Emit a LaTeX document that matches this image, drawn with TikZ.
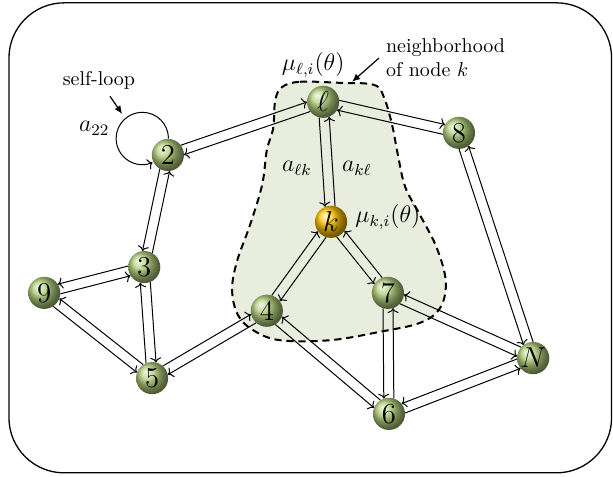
\documentclass[tikz,border=0pt]{standalone}
\usepackage{amsmath}
\usetikzlibrary{arrows.meta,calc}
\definecolor{nodegreen}{HTML}{B2D07C}
\definecolor{kgold}{HTML}{FFC400}
\definecolor{hoodfill}{HTML}{E9EDDE}

% radius of the agent balls, used to start the links on the border
\newcommand{\noderad}{0.285cm}
% pair of opposite links; the sign of the offset picks the side
\newcommand{\twoway}[3][18]{%
    \pgfmathsetmacro\offa{#1}%
    \pgfmathsetmacro\offb{-(#1)}%
    \draw[link] ($(#2)!\noderad!\offa:(#3)$) -- ($(#3)!\noderad!\offb:(#2)$);
    \draw[link] ($(#3)!\noderad!\offa:(#2)$) -- ($(#2)!\noderad!\offb:(#3)$);
}

\begin{document}
\begin{tikzpicture}[
    x=0.925cm, y=0.925cm,
    agent/.style={
        circle, shading=ball, ball color=nodegreen,
        minimum size=0.565cm, inner sep=0pt,
        font=\Large,
    },
    focus/.style={agent, ball color=kgold},
    link/.style={-{To[length=2.4pt,width=5.5pt]}, line width=0.5pt},
    pointer/.style={-{Latex[length=4pt,width=3.5pt]}, line width=0.6pt},
    mathlabel/.style={font=\large},
    hood/.style={draw, dashed, dash pattern=on 3.6pt off 2.4pt, line width=1pt, fill=hoodfill},
]

% Canvas and outer frame
\useasboundingbox (0,0) rectangle (11.647,9.044);
\draw[line width=0.65pt, rounded corners=0.97cm] (0.17,0.06) rectangle (11.62,8.99);

% Neighborhood of node k
\draw[hood] plot[smooth cycle, tension=0.6] coordinates {
    (5.36,7.39) (5.70,7.49) (6.46,7.47) (7.11,7.43) (7.30,7.18)
    (7.45,6.67) (7.56,6.10) (7.70,5.49) (7.98,4.96) (8.30,4.33)
    (8.47,3.69) (8.36,3.19) (7.98,2.91) (7.22,2.74) (6.27,2.58)
    (5.32,2.58) (4.81,2.77) (4.52,3.06) (4.41,3.53) (4.50,4.07)
    (4.75,4.77) (4.98,5.53) (5.07,6.19) (5.19,6.61) (5.23,7.14)
};

% Agents
\node[agent] (n2) at (3.19,6.10) {2};
\node[agent] (nl) at (6.14,7.11) {$\ell$};
\node[agent] (n8) at (8.72,6.52) {8};
\node[focus] (nk) at (6.29,4.83) {$k$};
\node[agent] (n3) at (2.74,3.97) {3};
\node[agent] (n9) at (0.84,3.48) {9};
\node[agent] (n4) at (5.07,3.14) {4};
\node[agent] (n7) at (7.37,3.48) {7};
\node[agent] (n5) at (2.89,1.86) {5};
\node[agent] (n6) at (7.39,1.18) {6};
\node[agent] (nN) at (10.13,2.24) {$N$};

% Links, each one both ways
\twoway{n2}{nl}
\twoway{nl}{n8}
\twoway[-18]{nl}{nk}
\twoway[-18]{n2}{n3}
\twoway[-18]{n9}{n3}
\twoway{n3}{n5}
\twoway[-18]{n9}{n5}
\twoway{n5}{n4}
\twoway{n4}{nk}
\twoway[-18]{nk}{n7}
\twoway[-18]{n4}{n6}
\twoway[-18]{n7}{n6}
\twoway[-18]{n7}{nN}
\twoway[-18]{n8}{nN}
\twoway[-18]{n6}{nN}

% Self-loop on node 2
\draw[link] (n2.88) arc[start angle=0, end angle=293, radius=0.46cm];
\node[mathlabel] (a22) at (1.79,6.61) {$a_{22}$};
\node (selfloop) at (1.88,7.52) {self-loop};
\coordinate (looptip) at (2.32,6.88);
\draw[pointer] (selfloop) -- (looptip);

% Labels
\node[mathlabel] (mul) at (5.95,7.81) {$\mu_{\ell,i}(\theta)$};
\node[mathlabel, anchor=west] (muk) at (6.62,4.92) {$\mu_{k,i}(\theta)$};
\node[mathlabel] (alk) at (5.64,5.85) {$a_{\ell k}$};
\node[mathlabel] (akl) at (6.78,5.85) {$a_{k\ell}$};
\node[anchor=west, align=left] (nbhd) at (7.20,7.94) {neighborhood\\of node $k$};
\coordinate (nbtip) at (6.69,7.49);
\draw[pointer] (nbhd.west) -- (nbtip);

\end{tikzpicture}
\end{document}
